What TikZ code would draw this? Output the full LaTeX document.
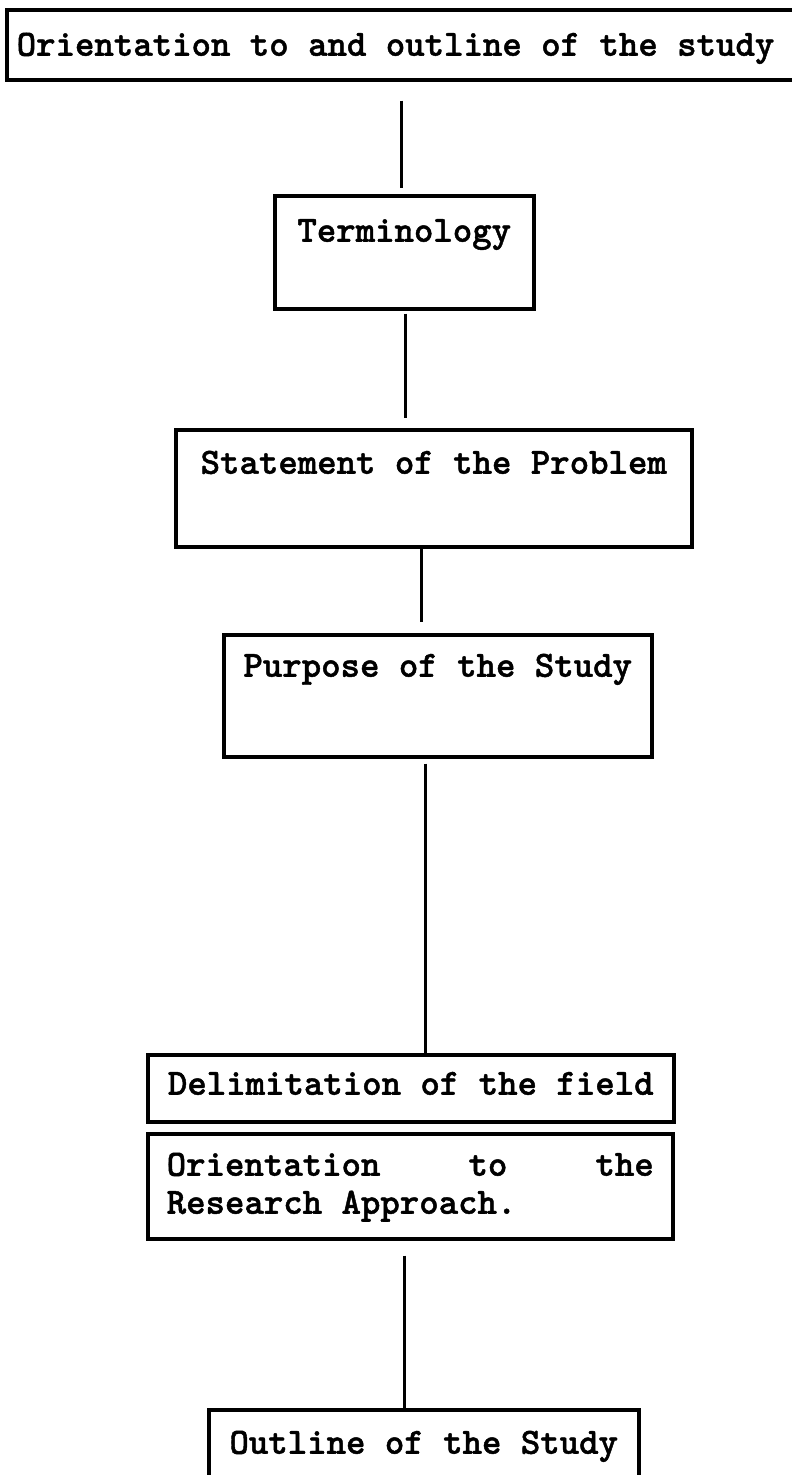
\documentclass[tikz,border=0pt]{standalone}
\usepackage{fontspec}
\newfontfamily\boxfont{lmmonolt10-bold.otf}[FakeBold=1.2]
\tikzset{
  stepbox/.style={draw, line width=3.5pt, inner xsep=0pt, inner ysep=0pt, anchor=north west,
    font=\boxfont\fontsize{37}{38}\selectfont},
  link/.style={line width=3pt}
}
\begin{document}
\begin{tikzpicture}[x=1pt,y=-1pt]
\useasboundingbox (0,0) rectangle (792,1475);

%boxes
\node[stepbox, text width=790pt, align=flush left, inner xsep=10pt, text height=46pt, text depth=24pt] (orient) at (5,8) {Orientation to and outline of the study};
\node[stepbox, minimum width=259pt, text height=46pt, text depth=67pt] (term) at (273,194) {Terminology};
\node[stepbox, minimum width=516pt, text height=44pt, text depth=73pt] (stmt) at (174,428) {Statement of the Problem};
\node[stepbox, minimum width=428pt, text height=42pt, text depth=80pt] (purp) at (222,633) {Purpose of the Study};
\node[stepbox, minimum width=526pt, text height=40pt, text depth=27pt] (delim) at (146,1053) {Delimitation of the field};
\node[stepbox, text width=487pt, align=flush left, inner xsep=19pt, text height=42pt, text depth=63pt] (appr) at (146,1132) {Orientation\hfill to\hfill the\\Research Approach.};
\node[stepbox, minimum width=430pt, text height=44pt, text depth=80pt] (outl) at (207,1408) {Outline of the Study};

%connectors
\coordinate (c1) at (401,0);
\coordinate (c2) at (405,0);
\coordinate (c3) at (421,0);
\coordinate (c4) at (425,0);
\coordinate (c5) at (404,0);
\draw[link, shorten <=19pt, shorten >=6pt] (orient.south -| c1) -- (term.north -| c1);
\draw[link, shorten <=3pt, shorten >=10pt] (term.south -| c2) -- (stmt.north -| c2);
\draw[link, shorten >=11pt] (stmt.south -| c3) -- (purp.north -| c3);
\draw[link, shorten <=5pt] (purp.south -| c4) -- (delim.north -| c4);
\draw[link, shorten <=15pt] (appr.south -| c5) -- (outl.north -| c5);

\end{tikzpicture}
\end{document}
